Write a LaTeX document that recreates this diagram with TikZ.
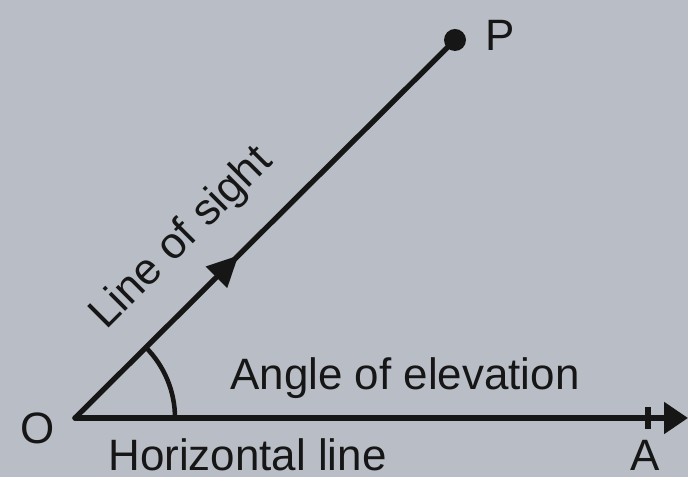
\documentclass[tikz,border=0pt]{standalone}
\usepackage{fontspec}
\setmainfont{Liberation Sans}
\usepackage{xcolor}
\usetikzlibrary{arrows.meta,positioning,decorations.markings}

\definecolor{paper}{HTML}{B9BDC5}
\definecolor{ink}{HTML}{161616}

\begin{document}
\begin{tikzpicture}[
  font=\fontsize{25}{30}\selectfont,
  % Line styles
  ray/.style={draw=ink, line width=3pt, line cap=round},
  label/.style={text=ink, inner sep=0pt},
  midarrow/.style={postaction={decorate}, decoration={markings,
    mark=at position #1 with {\arrow{Triangle[length=0.62cm,width=0.58cm]}}}}
]

% ── Paper background ─────────────────────────────────────────────────────────
\fill[paper] (0,0) rectangle (13.76,9.54);
\useasboundingbox (0,0) rectangle (13.76,9.54);

% ── Points ───────────────────────────────────────────────────────────────────
\coordinate (O)   at (1.5,1.18);
\coordinate (P)   at (9.1,8.74);
\coordinate (A)   at (12.96,1.18);
\coordinate (end) at (13.76,1.18);

% ── Labels ───────────────────────────────────────────────────────────────────
\node[label] (lO) at (0.76,0.98) {O};
\node[label] (lP) at (10.0,8.84) {P};
\node[label] (lA) at (12.9,0.44) {A};
\node[label] (hor) at (4.95,0.44) {Horizontal line};
\node[label] (elev) at (8.1,1.98) {Angle of elevation};
\node[label, rotate=45] (los) at (3.64,4.76) {Line of sight};

% ── Line of sight and horizontal line ────────────────────────────────────────
\draw[ray, midarrow=0.43] (O) -- (P);
\draw[ray, -{Triangle[length=0.48cm,width=0.62cm]}] (O) -- (end);
\fill[ink] (P) circle (0.22);

% ── Tick at A ────────────────────────────────────────────────────────────────
\draw[ray, line cap=butt] ([yshift=0.22cm]A) -- ([yshift=-0.22cm]A);

% ── Angle arc ────────────────────────────────────────────────────────────────
\draw[ray, line width=2.6pt] ([xshift=2cm]O) arc[start angle=0, end angle=44.85, radius=2cm];

\end{tikzpicture}
\end{document}
